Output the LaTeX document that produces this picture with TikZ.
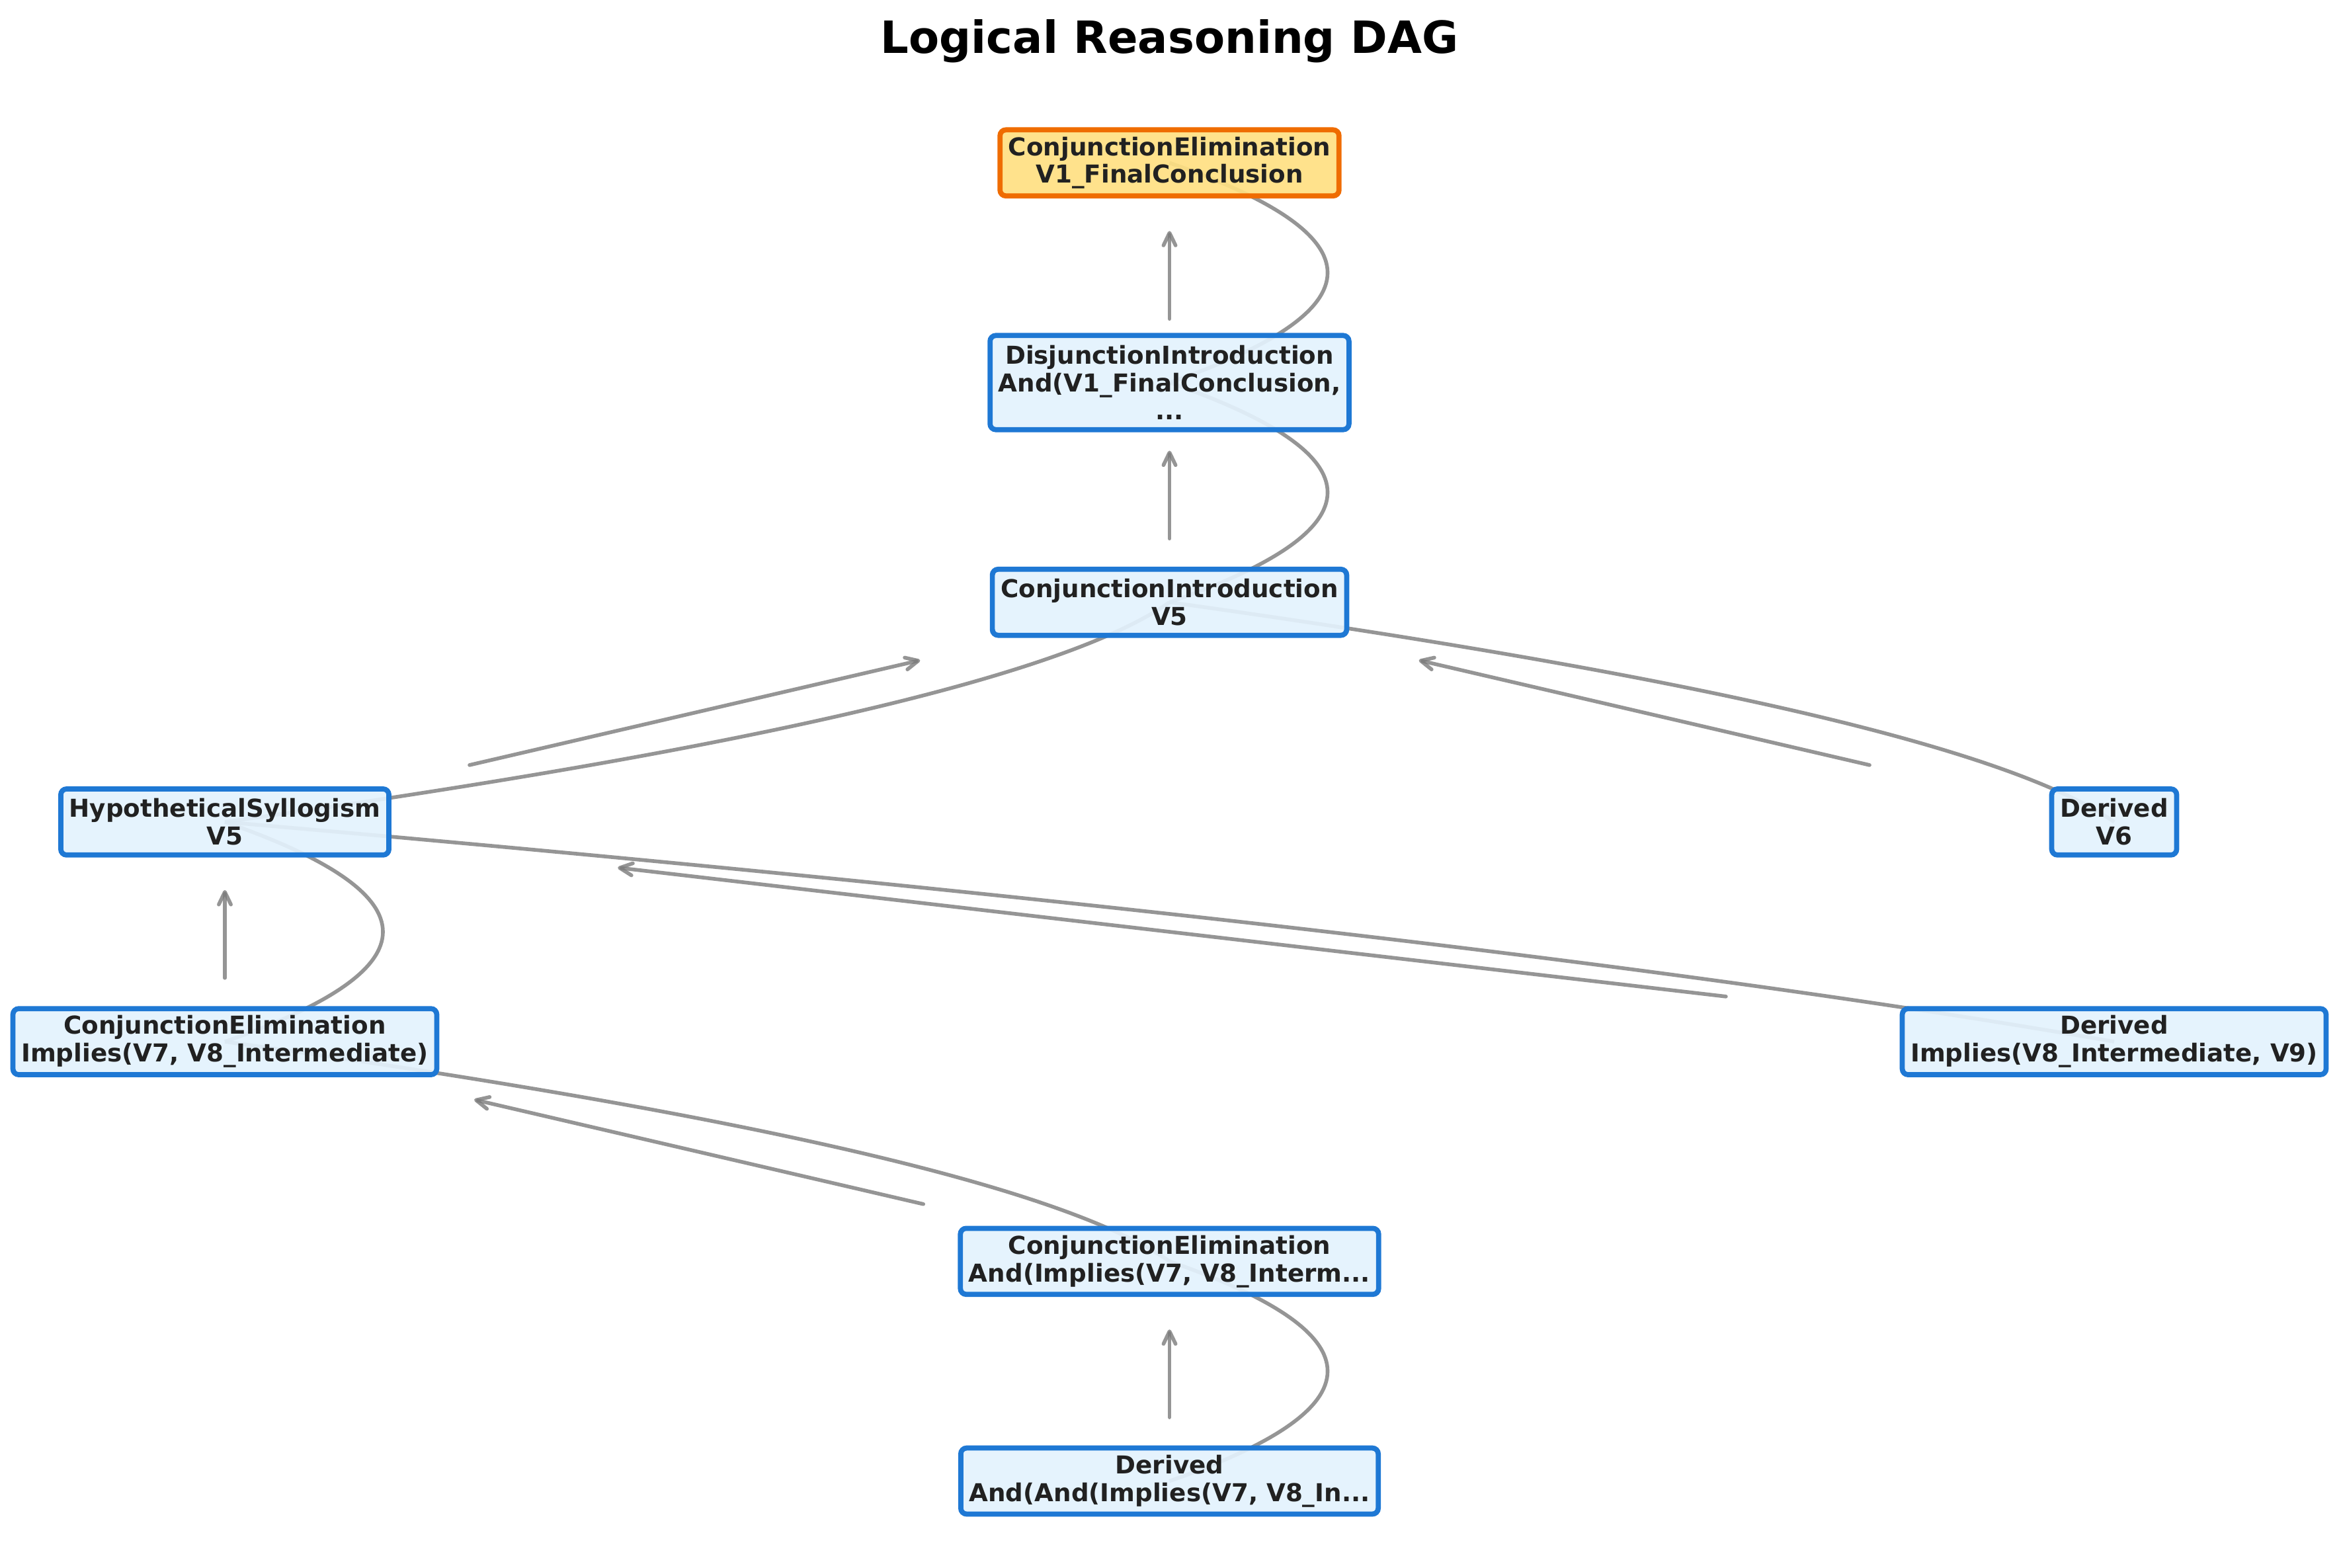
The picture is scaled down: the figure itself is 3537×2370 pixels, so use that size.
\documentclass[tikz,border=0pt]{standalone}
\usepackage{fontspec}
\setmainfont{DejaVu Sans}
\usetikzlibrary{arrows.meta,calc,backgrounds}
\definecolor{bluec}{HTML}{1E78D4}
\definecolor{bluef}{HTML}{E3F2FD}
\definecolor{orangec}{HTML}{EF6C00}
\definecolor{orangef}{HTML}{FFE082}
\definecolor{textc}{HTML}{212121}
\definecolor{edgec}{HTML}{7A7A7A}
\begin{document}
\begin{tikzpicture}[x=0.01cm,y=-0.01cm,
  box/.style={draw=bluec, fill=bluef, line width=2.2pt, rounded corners=2.5pt,
    inner xsep=3.6pt, inner ysep=1pt, align=center, text=textc,
    font=\fontsize{10.6}{11.9}\selectfont\bfseries,
    fill opacity=0.92, text opacity=1, minimum height=28.4pt},
  box3/.style={box, minimum height=40.5pt},
  goal/.style={box, draw=orangec, fill=orangef},
  curve/.style={draw=edgec, draw opacity=0.8, line width=1.6pt},
  arr/.style={draw=edgec, draw opacity=0.8, line width=1.6pt, line cap=round,
    -{Straight Barb[length=5.4pt,width=5.2pt,round]}}
]
\useasboundingbox (0,0) rectangle (3537,2370);

\node[font=\fontsize{19.1}{23}\selectfont\bfseries, anchor=base, inner sep=0pt] (title) at (1768.5,81) {Logical Reasoning DAG};

\node[goal] (top) at (1768.5,246.3) {ConjunctionElimination\\V1\_FinalConclusion};
\node[box3] (disj) at (1768.5,578.5) {DisjunctionIntroduction\\And(V1\_FinalConclusion,\\...};
\node[box] (cintro) at (1768.5,910.7) {ConjunctionIntroduction\\V5};
\node[box] (hyp) at (340,1242.9) {HypotheticalSyllogism\\V5};
\node[box] (v6) at (3197,1242.9) {Derived\\V6};
\node[box] (ceimp) at (340,1575.1) {ConjunctionElimination\\Implies(V7, V8\_Intermediate)};
\node[box] (dimp) at (3197,1575.1) {Derived\\Implies(V8\_Intermediate, V9)};
\node[box] (ceand) at (1768.5,1907.3) {ConjunctionElimination\\And(Implies(V7, V8\_Interm...};
\node[box] (dand) at (1768.5,2239.5) {Derived\\And(And(Implies(V7, V8\_In...};

\begin{scope}[on background layer]
  \foreach \s/\t/\a/\b in {disj/top/0.29/0.69, cintro/disj/0.29/0.69, hyp/cintro/0.259/0.736,
      v6/cintro/0.259/0.736, ceimp/hyp/0.29/0.69, dimp/hyp/0.2055/0.792,
      ceand/ceimp/0.2606/0.736, dand/ceand/0.29/0.69}{
    \draw[curve] (\s.center) .. controls ($(\s.center)!1/3!(\t.center)+(318.7,0)$)
      and ($(\t.center)!1/3!(\s.center)+(318.7,0)$) .. (\t.center);
    \draw[arr] ($(\s.center)!\a!(\t.center)$) -- ($(\s.center)!\b!(\t.center)$);
  }
\end{scope}
\end{tikzpicture}
\end{document}
